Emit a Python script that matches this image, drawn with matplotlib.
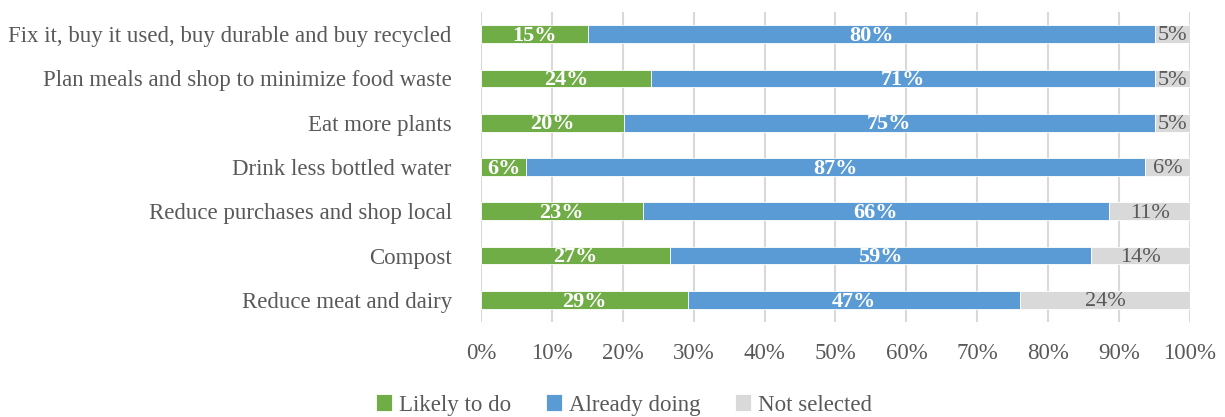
import numpy as np
import matplotlib.pyplot as plt

plt.rcParams['font.family'] = ['Liberation Serif', 'DejaVu Serif']

# survey actions, top to bottom
actions = [
    "Fix it, buy it used, buy durable and buy recycled",
    "Plan meals and shop to minimize food waste",
    "Eat more plants",
    "Drink less bottled water",
    "Reduce purchases and shop local",
    "Compost",
    "Reduce meat and dairy",
]
likely = [15.1, 24.0, 20.2, 6.4, 22.8, 26.7, 29.2]
already = [79.9, 71.0, 74.8, 87.3, 65.8, 59.3, 46.8]
not_sel = [5.0, 5.0, 5.0, 6.3, 11.4, 14.0, 24.0]

series_names = ["Likely to do", "Already doing", "Not selected"]
colors = ["#70AD47", "#5B9BD5", "#D9D9D9"]
label_colors = ["white", "white", "#595959"]
label_weights = ["bold", "bold", "normal"]
text_gray = "#595959"

fig = plt.figure(figsize=(12.25, 4.17), dpi=100)
ax = fig.add_axes([481 / 1225, 1 - 322 / 417, 709 / 1225, 310 / 417])

y = np.arange(len(actions))
left = np.zeros(len(actions))
for vals, name, c, lc, lw in zip([likely, already, not_sel], series_names,
                                 colors, label_colors, label_weights):
    vals = np.array(vals)
    ax.barh(y, vals, left=left, height=0.4, color=c, edgecolor="white",
            linewidth=0.6, label=name, zorder=3)
    for yi, l, v in zip(y, left, vals):
        ax.text(l + v / 2, yi + 0.04, f"{v:.0f}%", ha="center", va="center",
                color=lc, fontweight=lw, fontsize=16, zorder=4)
    left += vals

ax.set_xlim(0, 100)
ax.set_ylim(len(actions) - 0.5, -0.5)
ax.set_xticks(np.arange(0, 101, 10))
ax.set_xticklabels([f"{t}%" for t in range(0, 101, 10)])
ax.set_yticks(y)
ax.set_yticklabels(actions)
ax.tick_params(axis="both", length=0, labelsize=16.5, labelcolor=text_gray)
ax.tick_params(axis="x", pad=15)
ax.tick_params(axis="y", pad=21)
ax.grid(axis="x", color="#D9D9D9", linewidth=1.5, zorder=0)
for s in ax.spines.values():
    s.set_visible(False)

fig.legend(loc="center", bbox_to_anchor=(624 / 1225, 1 - 405 / 417), ncol=3,
           frameon=False, fontsize=16.5, labelcolor=text_gray,
           handlelength=0.7, handleheight=0.7, handletextpad=0.3,
           columnspacing=1.5)

fig.savefig("out.png", dpi=100)
